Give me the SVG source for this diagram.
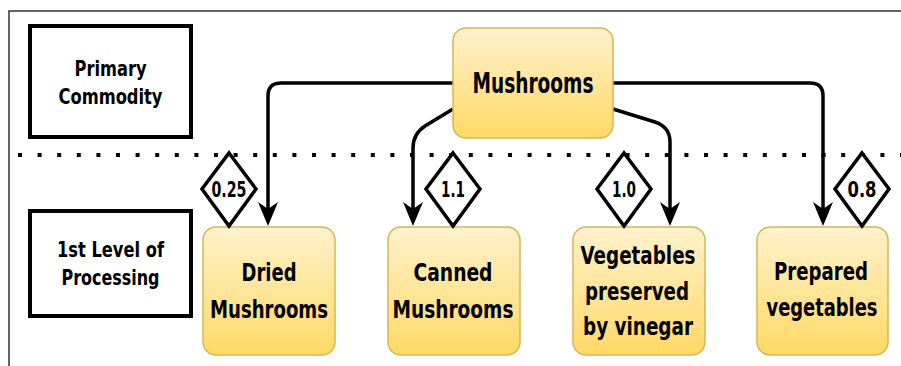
<svg xmlns="http://www.w3.org/2000/svg" width="901" height="366" viewBox="0 0 901 366">
<defs>
<linearGradient id="yg" x1="0" y1="0" x2="0" y2="1">
<stop offset="0" stop-color="#fff2cc"/>
<stop offset="1" stop-color="#ffd966"/>
</linearGradient>
<marker id="arr" viewBox="0 0 24 20" refX="17" refY="10" markerWidth="24" markerHeight="20" markerUnits="userSpaceOnUse" orient="auto">
<path d="M0,0 L24,10 L0,20 L7,10 Z" fill="#000"/>
</marker>
</defs>
<style>
.lvl{fill:#fff;stroke:#000;stroke-width:4}
.node{fill:url(#yg);stroke:#d6b656;stroke-width:1.5}
.dia{fill:#fff;stroke:#000;stroke-width:3.5;stroke-linejoin:miter}
.conn{fill:none;stroke:#000;stroke-width:3.5;marker-end:url(#arr)}
text{font-family:"DejaVu Sans Condensed","DejaVu Sans","Liberation Sans",Arial,sans-serif;font-weight:bold;fill:#000;text-anchor:middle}
.t1{font-size:21px}
.t2{font-size:25px}
.t2s{font-size:21px}
.t3{font-size:28px}
.t4{font-size:21px}
</style>
<rect x="0" y="0" width="901" height="366" fill="#fff"/>
<path d="M9,366 L9,11 L901,11" fill="none" stroke="#333" stroke-width="1.5"/>
<line x1="18" y1="155" x2="901" y2="155" stroke="#000" stroke-width="4" stroke-dasharray="4 15.6"/>

<g id="lvl-primary">
<rect class="lvl" x="30" y="26" width="161" height="111"/>
<text class="t1" x="110.5" y="76" textLength="72" lengthAdjust="spacingAndGlyphs">Primary</text>
<text class="t1" x="110.5" y="104" textLength="104" lengthAdjust="spacingAndGlyphs">Commodity</text>
</g>
<g id="lvl-first">
<rect class="lvl" x="30" y="211" width="161" height="105"/>
<text class="t1" x="110.5" y="257" textLength="107" lengthAdjust="spacingAndGlyphs">1st Level of</text>
<text class="t1" x="110.5" y="285" textLength="98" lengthAdjust="spacingAndGlyphs">Processing</text>
</g>

<g id="connectors">
<path class="conn" d="M453,83 L281,83 Q268,83 268,96 L268,219"/>
<path class="conn" d="M453,109 L425,126 Q413,134 413,148 L413,219"/>
<path class="conn" d="M613,109 L655,122 Q670,127 670,142 L670,219"/>
<path class="conn" d="M613,83 L810,83 Q823,83 823,96 L823,219"/>
</g>

<g id="mushrooms">
<rect class="node" x="453" y="28" width="160" height="110" rx="13"/>
<text class="t3" x="533" y="93" textLength="121" lengthAdjust="spacingAndGlyphs">Mushrooms</text>
</g>

<g id="dried">
<rect class="node" x="203" y="227" width="132" height="128" rx="13"/>
<text class="t2" x="269" y="281" textLength="55" lengthAdjust="spacingAndGlyphs">Dried</text>
<text class="t2" x="269" y="318" textLength="118" lengthAdjust="spacingAndGlyphs">Mushrooms</text>
</g>
<g id="canned">
<rect class="node" x="388" y="227" width="132" height="128" rx="13"/>
<text class="t2" x="453" y="281" textLength="79" lengthAdjust="spacingAndGlyphs">Canned</text>
<text class="t2" x="453" y="318" textLength="121" lengthAdjust="spacingAndGlyphs">Mushrooms</text>
</g>
<g id="vinegar">
<rect class="node" x="573" y="227" width="132" height="128" rx="13"/>
<text class="t2" x="638" y="264" textLength="115" lengthAdjust="spacingAndGlyphs">Vegetables</text>
<text class="t2" x="637" y="300" textLength="104" lengthAdjust="spacingAndGlyphs">preserved</text>
<text class="t2" x="638" y="335" textLength="110" lengthAdjust="spacingAndGlyphs">by vinegar</text>
</g>
<g id="prepared">
<rect class="node" x="757" y="227" width="131" height="128" rx="13"/>
<text class="t2" x="821" y="280" textLength="94" lengthAdjust="spacingAndGlyphs">Prepared</text>
<text class="t2s" transform="translate(822,316) scale(1,1.19)" x="0" y="0" textLength="111" lengthAdjust="spacingAndGlyphs">vegetables</text>
</g>

<g id="ratio-dried">
<polygon class="dia" points="229,153 256,189 229,226 202,189"/>
<text class="t4" x="229" y="197" textLength="35" lengthAdjust="spacingAndGlyphs">0.25</text>
</g>
<g id="ratio-canned">
<polygon class="dia" points="453,153 480,189 453,226 426,189"/>
<text class="t4" x="453" y="197" textLength="24" lengthAdjust="spacingAndGlyphs">1.1</text>
</g>
<g id="ratio-vinegar">
<polygon class="dia" points="624,153 651,189 624,226 597,189"/>
<text class="t4" x="624" y="197" textLength="24" lengthAdjust="spacingAndGlyphs">1.0</text>
</g>
<g id="ratio-prepared">
<polygon class="dia" points="862,153 889,189 862,226 835,189"/>
<text class="t4" x="862" y="197" textLength="29" lengthAdjust="spacingAndGlyphs">0.8</text>
</g>
</svg>
